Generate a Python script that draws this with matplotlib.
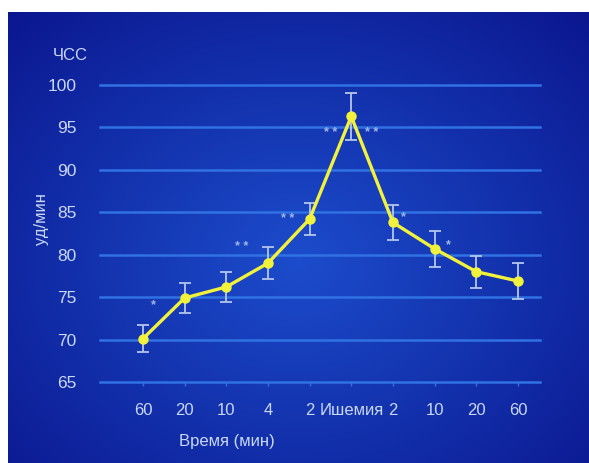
import matplotlib
matplotlib.use("Agg")
import matplotlib.pyplot as plt
import numpy as np

plt.rcParams['font.family'] = ['Liberation Sans', 'DejaVu Sans']

# heart rate (bpm) before, during and after ischemia
time_labels = ["60", "20", "10", "4", "2", "Ишемия", "2", "10", "20", "60"]
hr_mean = [70.1, 74.9, 76.2, 79.0, 84.2, 96.3, 83.8, 80.7, 78.0, 76.9]
hr_err = [1.6, 1.8, 1.8, 1.9, 1.9, 2.8, 2.1, 2.1, 1.9, 2.1]

# significance marks: (text, x in category units, y in bpm)
sig_marks = [("*", 0.24, 74.1), ("* *", 2.37, 80.9), ("* *", 3.48, 84.2),
             ("* *", 4.5, 94.3), ("* *", 5.5, 94.3), ("*", 6.26, 84.4),
             ("*", 7.34, 81.1)]

TXT = "#c9d8f5"
GRID = "#3072e4"
LINE = "#f2f23c"
ERR = "#b4c6ec"

fig = plt.figure(figsize=(5.89, 4.63), dpi=100, facecolor="white")

# blue panel with radial gradient
bg = fig.add_axes([8 / 589, 0, 1 - 8 / 589, 451 / 463])
yy, xx = np.mgrid[0:1:200j, 0:1:250j]
r = np.sqrt(((xx - 0.5) / 0.75) ** 2 + ((yy - 0.55) / 0.8) ** 2)
r = np.clip(r, 0, 1)
c0 = np.array([0.11, 0.30, 0.80])
c1 = np.array([0.04, 0.08, 0.55])
img = c0[None, None, :] * (1 - r[..., None]) + c1[None, None, :] * r[..., None]
bg.imshow(img, aspect="auto", extent=[0, 1, 0, 1], interpolation="bilinear")
bg.set_axis_off()

ax = fig.add_axes([100 / 589, 81 / 463, 440 / 589, 297 / 463])
ax.patch.set_alpha(0)
x = np.arange(len(time_labels))
ax.set_xlim(-1.03, 9.53)
ax.set_ylim(65, 100)
ax.set_yticks(np.arange(65, 101, 5))
ax.yaxis.grid(True, color=GRID, linewidth=1.8)
for gl in ax.get_ygridlines():
    gl.set_clip_on(False)
ax.set_axisbelow(True)
for s in ax.spines.values():
    s.set_visible(False)

ax.errorbar(x, hr_mean, yerr=hr_err, fmt="none", ecolor=ERR, elinewidth=1.3,
            capsize=4, capthick=1.3, zorder=3, clip_on=False)
ax.plot(x, hr_mean, color=LINE, linewidth=2.4, marker="o", markersize=6.5,
        markerfacecolor=LINE, markeredgecolor=LINE, zorder=4, clip_on=False)

for txt, sx, sy in sig_marks:
    ax.text(sx, sy, txt, color="#9fb6e6", fontsize=9, fontweight="bold",
            ha="center", va="center", zorder=5)

ax.set_xticks(x)
ax.set_xticklabels(time_labels)
ax.tick_params(axis="x", colors=GRID, length=3, width=1, pad=12,
               labelcolor=TXT, labelsize=12)
ax.tick_params(axis="y", length=0, pad=17, labelcolor=TXT, labelsize=12.5)

ax.set_xlabel("Время (мин)", color=TXT, fontsize=12)
ax.set_ylabel("уд/мин", color=TXT, fontsize=12)
ax.yaxis.set_label_coords(-0.116, 0.55)
ax.xaxis.set_label_coords(0.288, -0.175)
fig.text(70 / 589, 1 - 55 / 463, "ЧСС", color=TXT, fontsize=12,
         ha="center", va="center")

fig.savefig("out.png", dpi=100, facecolor="white")
